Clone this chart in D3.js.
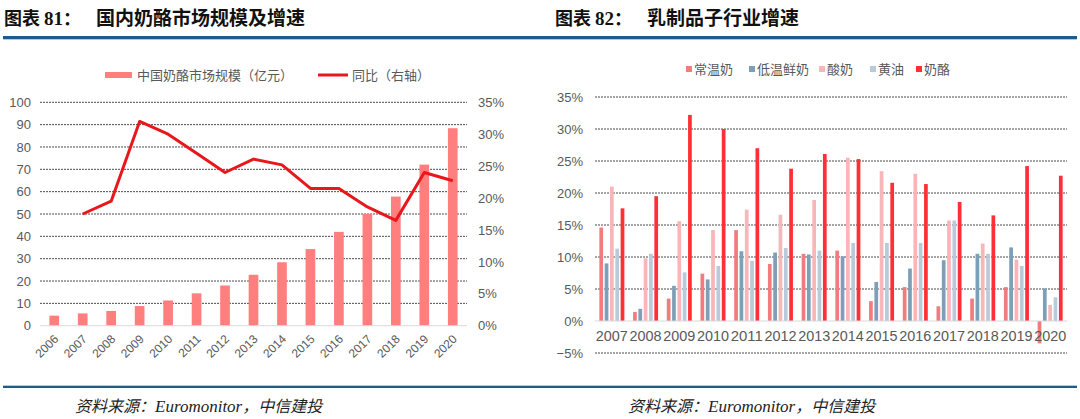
<!DOCTYPE html>
<html><head><meta charset="utf-8">
<script src="https://cdn.jsdelivr.net/npm/d3@7"></script>
<style>
html,body{margin:0;padding:0;background:#fff;}
svg{display:block;}
text{font-family:"Liberation Sans",Arial,"Noto Sans CJK SC",sans-serif;}
</style></head>
<body>
<svg id="c" width="1080" height="419"></svg>
<script>
// ---- Data: chart 81 ----
const years81 = ["2006","2007","2008","2009","2010","2011","2012","2013","2014","2015","2016","2017","2018","2019","2020"];
const marketSize = [4.5,5.5,6.6,8.8,11.3,14.5,18.0,22.8,28.4,34.3,42.0,50.0,57.8,72.1,88.4];
const yoy = [null,0.175,0.195,0.32,0.30,0.27,0.24,0.261,0.252,0.215,0.215,0.186,0.165,0.24,0.227];
const leftTicks81 = [0,10,20,30,40,50,60,70,80,90,100];
const rightTicks81 = [0,0.05,0.10,0.15,0.20,0.25,0.30,0.35];
const legend81 = ["中国奶酪市场规模（亿元）","同比（右轴）"];

// ---- Data: chart 82 ----
const years82 = ["2007","2008","2009","2010","2011","2012","2013","2014","2015","2016","2017","2018","2019","2020"];
const seriesNames82 = ["常温奶","低温鲜奶","酸奶","黄油","奶酪"];
const uhtMilk   = [0.146,0.014,0.035,0.074,0.142,0.089,0.105,0.110,0.031,0.053,0.023,0.035,0.053,-0.035];
const freshMilk = [0.090,0.019,0.055,0.065,0.109,0.107,0.104,0.101,0.061,0.082,0.095,0.105,0.115,0.051];
const yogurt    = [0.210,0.098,0.156,0.142,0.174,0.166,0.189,0.255,0.234,0.230,0.157,0.121,0.096,0.025];
const butter    = [0.113,0.105,0.076,0.086,0.094,0.114,0.110,0.122,0.122,0.122,0.157,0.105,0.086,0.037];
const cheese    = [0.176,0.195,0.322,0.300,0.270,0.238,0.261,0.253,0.216,0.214,0.186,0.165,0.242,0.227];
const ticks82 = [-0.05,0,0.05,0.10,0.15,0.20,0.25,0.30,0.35];

const titles = [
  {num:"81", text:"国内奶酪市场规模及增速"},
  {num:"82", text:"乳制品子行业增速"}
];
const source = ["资料来源：","Euromonitor","，中信建投"];

const svg = d3.select("#c");
const blue = "#1F5A8C";
const gridCol = "#4d4d4d";
const tickCol = "#595959";

// ---- Frame: titles, rules, sources ----
[4,555].forEach((x0,i)=>{
  const t = svg.append("text").attr("x",x0).attr("y",25)
    .attr("font-size",18).attr("font-weight","bold").attr("fill","#111");
  t.append("tspan").attr("font-family","Noto Sans CJK SC").text("图表 ");
  t.append("tspan").attr("font-family","Liberation Serif").attr("font-size",19).text(titles[i].num);
  t.append("tspan").attr("font-family","Noto Sans CJK SC").text("：");
  svg.append("text").attr("x", i===0?96:647).attr("y",25)
    .attr("font-size",19).attr("font-weight","bold").attr("fill","#111")
    .attr("font-family","Noto Sans CJK SC").text(titles[i].text);
});
svg.append("rect").attr("x",3).attr("y",36).attr("width",1074).attr("height",3).attr("fill",blue);
svg.append("rect").attr("x",3).attr("y",39).attr("width",1074).attr("height",1).attr("fill","#b7cadb");
svg.append("rect").attr("x",3).attr("y",385).attr("width",1074).attr("height",1).attr("fill","#b7cadb");
svg.append("rect").attr("x",3).attr("y",386).attr("width",1074).attr("height",2).attr("fill",blue);

[75,628].forEach(x0=>{
  const t = svg.append("text").attr("x",x0).attr("y",412).attr("font-size",16)
    .attr("font-style","italic").attr("fill","#222");
  t.append("tspan").attr("font-family","Noto Sans CJK SC").text(source[0]);
  t.append("tspan").attr("font-family","Liberation Serif").attr("font-size",17).text(source[1]);
  t.append("tspan").attr("font-family","Noto Sans CJK SC").text(source[2]);
});

// ---- Chart 81 ----
{
  const x = d3.scaleBand().domain(years81).range([40,467]).padding(0);
  const yL = d3.scaleLinear().domain([0,100]).range([325.7,102.3]);
  const yR = d3.scaleLinear().domain([0,0.35]).range([325.7,102.3]);
  const g = svg.append("g");
  g.selectAll("line.grid").data(leftTicks81.filter(d=>d>0)).join("line")
    .attr("x1",40).attr("x2",467).attr("y1",d=>yL(d)).attr("y2",d=>yL(d))
    .attr("stroke",gridCol).attr("stroke-width",1).attr("stroke-dasharray","2,1");
  const la = g.append("g").attr("transform","translate(40,0)")
    .call(d3.axisLeft(yL).tickValues(leftTicks81).tickSize(0).tickPadding(9).tickFormat(d3.format("d")));
  la.select(".domain").remove();
  la.selectAll("text").attr("font-size",13).attr("fill",tickCol).attr("font-family","Liberation Sans");
  const ra = g.append("g").attr("transform","translate(467,0)")
    .call(d3.axisRight(yR).tickValues(rightTicks81).tickSize(0).tickPadding(11).tickFormat(d3.format(".0%")));
  ra.select(".domain").remove();
  ra.selectAll("text").attr("font-size",13).attr("fill",tickCol).attr("font-family","Liberation Sans");
  const bw = x.bandwidth()*0.34;
  g.selectAll("rect.bar").data(years81).join("rect")
    .attr("x",d=>x(d)+x.bandwidth()/2-bw/2).attr("width",bw)
    .attr("y",(d,i)=>yL(marketSize[i])).attr("height",(d,i)=>yL(0)-yL(marketSize[i]))
    .attr("fill","#FF7F7F");
  g.append("line").attr("x1",40).attr("x2",467).attr("y1",yL(0)).attr("y2",yL(0))
    .attr("stroke","#d9d9d9").attr("stroke-width",1);
  const pts = years81.map((d,i)=>[x(d)+x.bandwidth()/2, yoy[i]]).filter(p=>p[1]!==null);
  g.append("path").datum(pts)
    .attr("d",d3.line().x(p=>p[0]).y(p=>yR(p[1])))
    .attr("fill","none").attr("stroke","#E8171B").attr("stroke-width",3).attr("stroke-linejoin","round");
  const xa = g.append("g").attr("transform",`translate(0,${yL(0)})`)
    .call(d3.axisBottom(x).tickSize(0).tickPadding(0));
  xa.select(".domain").remove();
  xa.selectAll("text").attr("font-size",12).attr("fill",tickCol)
    .attr("text-anchor","end").attr("dy",0).attr("dx",0)
    .attr("transform","translate(5,14) rotate(-45)");
  g.append("rect").attr("x",105).attr("y",72).attr("width",27).attr("height",6).attr("fill","#FF7F7F");
  g.append("text").attr("x",137).attr("y",80).attr("font-size",13).attr("fill",tickCol).text(legend81[0]);
  g.append("line").attr("x1",318).attr("x2",348).attr("y1",75).attr("y2",75).attr("stroke","#E8171B").attr("stroke-width",3);
  g.append("text").attr("x",352).attr("y",80).attr("font-size",13).attr("fill",tickCol).text(legend81[1]);
}

// ---- Chart 82 ----
{
  const series = [uhtMilk,freshMilk,yogurt,butter,cheese];
  const colors = ["#F07C7E","#7E9FB8","#F9B5B8","#B9CBDB","#FF2F38"];
  const x = d3.scaleBand().domain(years82).range([595,1067]).padding(0);
  const xs = d3.scaleBand().domain(seriesNames82).range([0,25]).paddingInner(0.3);
  const y = d3.scaleLinear().domain([-0.05,0.35]).range([353,97]);
  const g = svg.append("g");
  g.selectAll("line.grid").data(ticks82.filter(d=>d!==0)).join("line")
    .attr("x1",595).attr("x2",1067).attr("y1",d=>y(d)).attr("y2",d=>y(d))
    .attr("stroke",gridCol).attr("stroke-width",1).attr("stroke-dasharray","2,1");
  const la = g.append("g").attr("transform","translate(595,0)")
    .call(d3.axisLeft(y).tickValues(ticks82).tickSize(0).tickPadding(12).tickFormat(d3.format(".0%")));
  la.select(".domain").remove();
  la.selectAll("text").attr("font-size",13).attr("fill",tickCol).attr("font-family","Liberation Sans");
  const off = (x.bandwidth()-25)/2;
  series.forEach((vals,k)=>{
    g.selectAll(null).data(years82).join("rect")
      .attr("x",d=>x(d)+off+xs(seriesNames82[k])).attr("width",xs.bandwidth())
      .attr("y",(d,i)=>y(Math.max(0,vals[i]))).attr("height",(d,i)=>Math.abs(y(vals[i])-y(0)))
      .attr("fill",colors[k]);
  });
  g.append("line").attr("x1",595).attr("x2",1067).attr("y1",y(0)).attr("y2",y(0))
    .attr("stroke","#d9d9d9").attr("stroke-width",1);
  const xa = g.append("g").attr("transform",`translate(0,${y(0)})`)
    .call(d3.axisBottom(x).tickSize(0).tickPadding(10));
  xa.select(".domain").remove();
  xa.selectAll("text").attr("font-size",14).attr("fill",tickCol).attr("font-family","Liberation Sans")
    .attr("textLength",32).attr("lengthAdjust","spacingAndGlyphs");
  const lx = [686,749,819,870,916];
  seriesNames82.forEach((n,k)=>{
    g.append("rect").attr("x",lx[k]).attr("y",66).attr("width",6).attr("height",6).attr("fill",colors[k]);
    g.append("text").attr("x",lx[k]+8).attr("y",74).attr("font-size",13).attr("fill",tickCol).text(n);
  });
}
</script>
</body></html>
